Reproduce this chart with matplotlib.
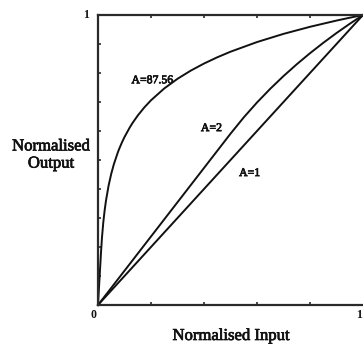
import matplotlib
matplotlib.use("Agg")
import matplotlib.pyplot as plt
import matplotlib.patheffects as pe

# A-law compression characteristics (normalised input -> normalised output)
x_a8756 = [0.0, 0.0114, 0.015, 0.02, 0.025, 0.03, 0.04, 0.05, 0.06, 0.075,
           0.08, 0.09, 0.1, 0.12, 0.13, 0.15, 0.175, 0.2, 0.25, 0.3, 0.35,
           0.4, 0.45, 0.5, 0.6, 0.7, 0.8, 0.9, 0.95, 1.0]
y_a8756 = [0.0, 0.1824, 0.2326, 0.2851, 0.3259, 0.3592, 0.4118, 0.4526,
           0.4859, 0.5267, 0.5385, 0.5600, 0.5792, 0.6125, 0.6272, 0.6533,
           0.6815, 0.7059, 0.7467, 0.7800, 0.8082, 0.8326, 0.8541, 0.8734,
           0.9067, 0.9349, 0.9593, 0.9808, 0.9906, 1.0]

x_a2 = [0.0, 0.5, 0.55, 0.6, 0.65, 0.7, 0.75, 0.8, 0.85, 0.9, 0.95, 1.0]
y_a2 = [0.0, 0.5906, 0.6469, 0.6983, 0.7456, 0.7894, 0.8301, 0.8682, 0.9040,
        0.9378, 0.9697, 1.0]

x_a1 = [0.0, 1.0]
y_a1 = [0.0, 1.0]

curve_labels = ["A=87.56", "A=2", "A=1"]
label_pos = [(0.205, 0.775), (0.428, 0.61), (0.572, 0.455)]

W, H = 363, 348
fig = plt.figure(figsize=(W / 100, H / 100), dpi=100)
ax = fig.add_axes([98 / W, 1 - 305 / H, 265 / W, 290 / H])

ink = "#111111"
heavy = [pe.withStroke(linewidth=0.5, foreground=ink)]
for xs, ys in [(x_a8756, y_a8756), (x_a2, y_a2), (x_a1, y_a1)]:
    ax.plot(xs, ys, color=ink, lw=1.4, solid_joinstyle="round", clip_on=False)

serif = ["Liberation Serif", "DejaVu Serif"]
for text, (lx, ly) in zip(curve_labels, label_pos):
    ax.text(lx, ly, text, ha="center", va="center", fontsize=8.5,
            family=serif, color=ink, path_effects=heavy)

ax.set_xlim(0, 1)
ax.set_ylim(0, 1)
for side in ["left", "top", "bottom"]:
    ax.spines[side].set_linewidth(1.6)
    ax.spines[side].set_color("#2a2a2a")
ax.spines["right"].set_visible(False)

ax.set_xticks([0.2, 0.4, 0.6, 0.8])
ax.set_yticks([0.1 * i for i in range(1, 10)])
ax.tick_params(direction="in", length=2.5, width=1.2, colors="#2a2a2a",
               labelbottom=False, labelleft=False)
ax.tick_params(axis="x", top=True)

# end-point labels
ax.text(-0.045, 1.0, "1", ha="center", va="center", fontsize=8.5,
        family=serif, fontweight="bold", color=ink)
ax.text(-0.018, -0.035, "0", ha="center", va="center", fontsize=8.5,
        family=serif, fontweight="bold", color=ink)
ax.text(0.985, -0.035, "1", ha="center", va="center", fontsize=8.5,
        family=serif, fontweight="bold", color=ink)

fig.text(51 / W, 1 - 155 / H, "Normalised\nOutput", ha="center", va="center",
         fontsize=12, family=serif, color=ink, linespacing=1.1,
         path_effects=heavy)
fig.text(231 / W, 1 - 336 / H, "Normalised Input", ha="center", va="center",
         fontsize=12, family=serif, color=ink, path_effects=heavy)

fig.savefig("out.png", dpi=100)
